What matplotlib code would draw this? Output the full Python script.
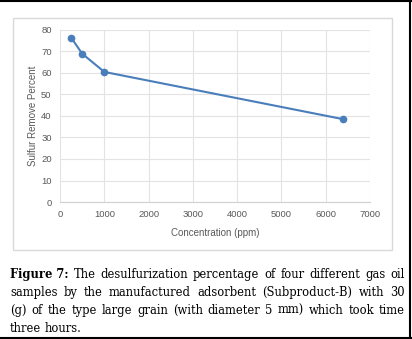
import matplotlib.pyplot as plt
from matplotlib.patches import Rectangle
from matplotlib.lines import Line2D

# dati
concentration = [250, 500, 1000, 6400]
sulfur_removed = [76.5, 69.0, 60.5, 38.5]
x_ticks = [0, 1000, 2000, 3000, 4000, 5000, 6000, 7000]
y_ticks = [0, 10, 20, 30, 40, 50, 60, 70, 80]

caption_lines = [
    "The desulfurization percentage of four different gas oil",
    "samples by the manufactured adsorbent (Subproduct-B) with 30",
    "(g) of the type large grain (with diameter 5 mm) which took time",
    "three hours.",
]

W, H = 412, 339
fig = plt.figure(figsize=(W / 100, H / 100), dpi=100)
fig.patch.set_facecolor('white')

# cornice nera (sopra, destra, sotto) e riquadro grigio del grafico
for xs, ys in [((0, 1), (1 - 0.5 / H, 1 - 0.5 / H)),
               ((1 - 2.5 / W, 1 - 2.5 / W), (0, 1)),
               ((0, 1), (1.5 / H, 1.5 / H))]:
    fig.add_artist(Line2D(xs, ys, transform=fig.transFigure, color='black', lw=1.5))
fig.add_artist(Rectangle((13 / W, 1 - 250 / H), (392 - 13) / W, (250 - 18) / H,
                         transform=fig.transFigure, fill=False,
                         edgecolor='#d9d9d9', lw=1.0))

ax = fig.add_axes([60 / W, 1 - 202 / H, (370 - 60) / W, (202 - 30) / H])
ax.plot(concentration, sulfur_removed, color='#4a7ebb', lw=1.5,
        marker='o', markersize=4.5, zorder=3)
ax.set_xlim(0, 7000)
ax.set_ylim(0, 80)
ax.set_xticks(x_ticks)
ax.set_yticks(y_ticks)
ax.grid(True, color='#e3e3e3', lw=0.8)
ax.set_axisbelow(True)
for s in ['top', 'right', 'left']:
    ax.spines[s].set_visible(False)
ax.spines['bottom'].set_color('#d0d0d0')
ax.tick_params(length=0, labelsize=6.8, labelcolor='#595959', pad=6)
for lbl in ax.get_xticklabels() + ax.get_yticklabels():
    lbl.set_family('Liberation Sans')
ax.set_xlabel('Concentration (ppm)', fontsize=7, color='#595959',
              family='Liberation Sans', labelpad=6)
ax.set_ylabel('Sulfur Remove Percent', fontsize=7, color='#595959',
              family='Liberation Sans', labelpad=2)

# didascalia giustificata, parola per parola
renderer = fig.canvas.get_renderer()
left_px, right_px = 10, 405
baselines = [278, 296, 314, 332]
fs = 8.3
for i, line in enumerate(caption_lines):
    words = line.split(' ')
    items = []
    if i == 0:
        items.append(('Figure 7:', 'bold'))
    items += [(w, 'normal') for w in words]
    widths = []
    for txt, wt in items:
        t = fig.text(0, 0, txt, fontsize=fs, family='DejaVu Serif', weight=wt)
        widths.append(t.get_window_extent(renderer).width)
        t.remove()
    if i < len(caption_lines) - 1:
        gap = (right_px - left_px - sum(widths)) / (len(items) - 1)
    else:
        gap = 3.5
    x = left_px
    for (txt, wt), w in zip(items, widths):
        fig.text(x / W, 1 - baselines[i] / H, txt, fontsize=fs,
                 family='DejaVu Serif', weight=wt, va='baseline', color='black')
        x += w + gap

fig.savefig('out.png', dpi=100)
